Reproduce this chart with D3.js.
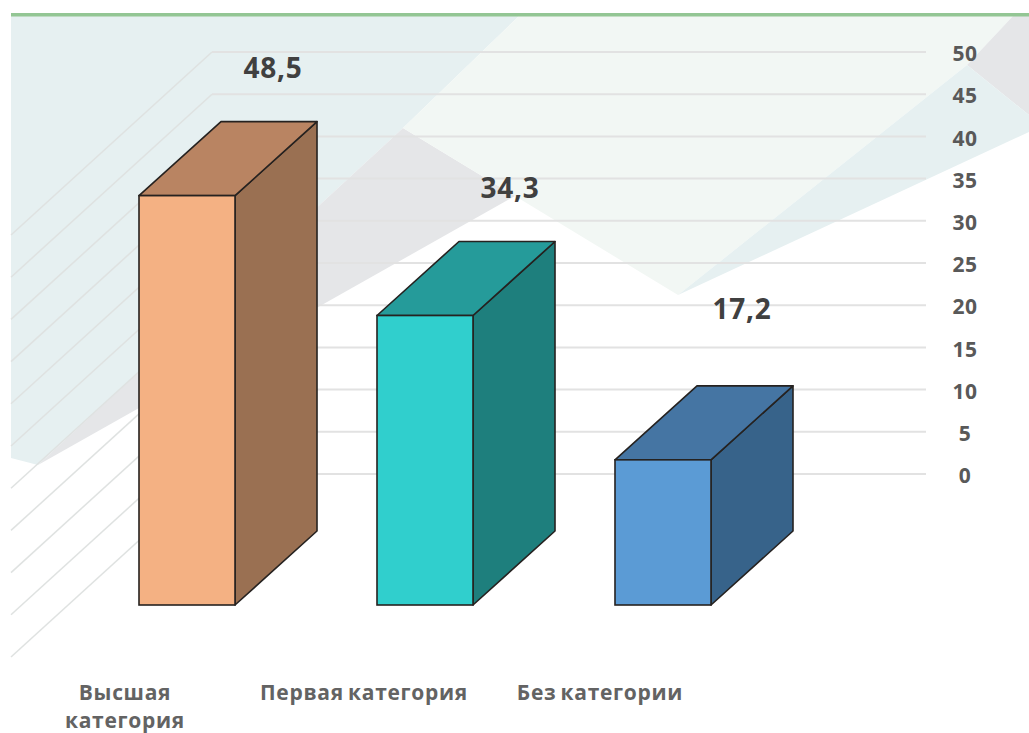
<!DOCTYPE html>
<html>
<head>
<meta charset="utf-8">
<script src="https://cdn.jsdelivr.net/npm/d3@7"></script>
<style>
  html, body { margin: 0; padding: 0; background: #fff; }
  svg { display: block; }
</style>
</head>
<body>
<svg id="chart" width="1029" height="733"></svg>
<script>
var categories = ["Высшая категория", "Первая категория", "Без категории"];
var values = [48.5, 34.3, 17.2];
var valueLabels = ["48,5", "34,3", "17,2"];
var ticks = [0, 5, 10, 15, 20, 25, 30, 35, 40, 45, 50];
var frontColors = ["#f4b183", "#30cfcd", "#5b9bd5"];
var topColors = ["#b98462", "#259b9a", "#4575a3"];
var sideColors = ["#9a7052", "#1e7f7d", "#37638a"];

var svg = d3.select("#chart");

// background shapes of the slide theme
var backdrop = [
  {fill: "#e6f0f1", pts: [[11,16],[519,16],[403,128],[38,465],[11,458]]},
  {fill: "#e5e6e8", pts: [[403,128],[515,196],[38,465]]},
  {fill: "#f2f7f4", pts: [[519,16],[1013,16],[967,65],[678,295],[403,128]]},
  {fill: "#e5e6e8", pts: [[1013,16],[1029,16],[1029,115],[967,65]]},
  {fill: "#e6f0f1", pts: [[967,65],[1029,115],[1029,132],[678,295]]}
];
svg.selectAll("polygon.bg").data(backdrop).enter().append("polygon")
  .attr("class", "bg")
  .attr("fill", function(d){ return d.fill })
  .attr("points", function(d){ return d.pts.join(" ") });

svg.append("rect").attr("x", 11).attr("y", 13).attr("width", 1018).attr("height", 3.5).attr("fill", "#93c694");

var y = d3.scaleLinear().domain([0, 50]).range([474, 52]);
var x = d3.scaleBand().domain(categories).range([139, 711]).paddingInner(0.5966);

var wallX = 212, gridEnd = 926;
var wallDx = -201, wallDy = 183;
var depthX = 82, depthY = -74;
var frontBase = 605;
var barH = function(v){ return y(0) - y(v) };

// gridlines, back wall and side wall
var grid = svg.append("g");
grid.selectAll("line.back").data(ticks).enter().append("line")
  .attr("class", "back")
  .attr("x1", wallX).attr("x2", gridEnd)
  .attr("y1", function(d){ return y(d) }).attr("y2", function(d){ return y(d) })
  .attr("stroke", "#e2e2e2").attr("stroke-width", 2);
grid.selectAll("line.wall").data(ticks).enter().append("line")
  .attr("class", "wall")
  .attr("x1", wallX).attr("x2", wallX + wallDx)
  .attr("y1", function(d){ return y(d) }).attr("y2", function(d){ return y(d) + wallDy })
  .attr("stroke", "#dfe2e1").attr("stroke-width", 1.5);

var axis = d3.axisRight(y).tickValues(ticks).tickSize(0).tickPadding(0);
var axisG = svg.append("g").attr("transform", "translate(965,2)").call(axis);
axisG.select(".domain").remove();
axisG.selectAll("text")
  .attr("text-anchor", "middle")
  .attr("font-family", "'Open Sans'").attr("font-weight", "bold").attr("font-size", 21)
  .attr("letter-spacing", 0.6)
  .attr("fill", "#595959");

// bars: front face, top and side
var bars = svg.selectAll("g.bar").data(values).enter().append("g").attr("class", "bar");
var w = x.bandwidth();
var stroke = "#262220";
bars.append("polygon")
  .attr("fill", function(d,i){ return sideColors[i] })
  .attr("stroke", stroke).attr("stroke-width", 1.6).attr("stroke-linejoin", "round")
  .attr("points", function(d,i){
    var r = x(categories[i]) + w, t = frontBase - barH(d);
    return [[r,t],[r+depthX,t+depthY],[r+depthX,frontBase+depthY],[r,frontBase]].join(" ");
  });
bars.append("polygon")
  .attr("fill", function(d,i){ return topColors[i] })
  .attr("stroke", stroke).attr("stroke-width", 1.6).attr("stroke-linejoin", "round")
  .attr("points", function(d,i){
    var l = x(categories[i]), t = frontBase - barH(d);
    return [[l,t],[l+depthX,t+depthY],[l+w+depthX,t+depthY],[l+w,t]].join(" ");
  });
bars.append("rect")
  .attr("fill", function(d,i){ return frontColors[i] })
  .attr("stroke", stroke).attr("stroke-width", 1.6)
  .attr("x", function(d,i){ return x(categories[i]) }).attr("width", w)
  .attr("y", function(d){ return frontBase - barH(d) })
  .attr("height", function(d){ return barH(d) });

// value labels float above the bar, the last one sits lower
var labelDx = [86, 85, 79], labelDy = [-118, -118, -141];
svg.selectAll("text.val").data(valueLabels).enter().append("text")
  .attr("class", "val")
  .text(function(d){ return d })
  .attr("text-anchor", "middle")
  .attr("x", function(d,i){ return x(categories[i]) + w/2 + labelDx[i] })
  .attr("y", function(d,i){ return frontBase - barH(values[i]) + labelDy[i] })
  .attr("font-family", "'Open Sans'").attr("font-weight", "bold").attr("font-size", 28)
  .attr("letter-spacing", 0.8)
  .attr("fill", "#404040");

// category labels
var catLines = [["Высшая", "категория"], ["Первая категория"], ["Без категории"]];
var catDx = [-62, -61, -63];
var cats = svg.selectAll("text.cat").data(catLines).enter().append("text")
  .attr("class", "cat")
  .attr("text-anchor", "middle")
  .attr("font-family", "'Open Sans'").attr("font-weight", "bold").attr("font-size", 21)
  .attr("letter-spacing", 0.7).attr("word-spacing", -2)
  .attr("fill", "#636363");
cats.selectAll("tspan").data(function(d,i){ return d.map(function(t){ return {t: t, i: i} }) }).enter().append("tspan")
  .text(function(d){ return d.t })
  .attr("x", function(d){ return x(categories[d.i]) + w/2 + catDx[d.i] })
  .attr("y", function(d,j){ return 700 + j*28 });
</script>
</body>
</html>
